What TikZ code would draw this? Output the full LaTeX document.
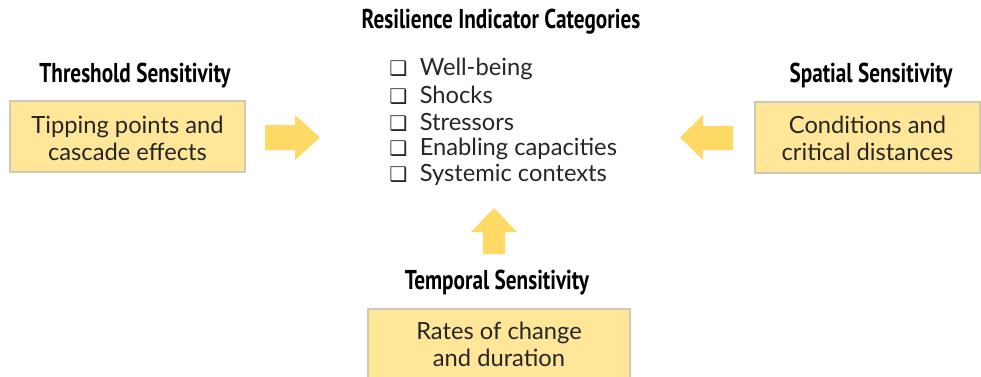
\documentclass[tikz,border=0pt]{standalone}
\usepackage{fontspec}
\setmainfont{Lato}
\newfontfamily\headfont[FakeStretch=0.78]{PT Sans}
\newfontfamily\symfont{DejaVu Sans}
\usetikzlibrary{positioning}

\definecolor{boxfill}{HTML}{FFE699}
\definecolor{boxline}{HTML}{D0C8B0}
\definecolor{arrowfill}{HTML}{FFD966}
\definecolor{textdark}{HTML}{262626}

\tikzset{
  sensbox/.style={draw=boxline, fill=boxfill, line width=0.6pt},
  senstext/.style={text=textdark, align=center, font=\fontsize{13.5}{15.4}\selectfont},
  senstitle/.style={font=\headfont\bfseries\fontsize{15.5}{18}\selectfont},
  item/.style={anchor=west, text=textdark, inner sep=0pt, font=\fontsize{13.5}{15}\selectfont},
  fatarrow/.style={fill=arrowfill, draw=none}
}

\begin{document}
\begin{tikzpicture}[x=0.02cm, y=-0.02cm]
  \useasboundingbox (0,0) rectangle (981,376);
  \clip (0,0) rectangle (981,376);

  % category list
  \node[senstitle] (cat) at (501,22) {Resilience Indicator Categories};
  \foreach \txt [count=\i] in {Well-being, Shocks, Stressors, Enabling capacities, Systemic contexts}
    \node[item] (item\i) at (389,{69+26.5*(\i-1)}) {{\symfont\fontsize{11.5}{14}\selectfont ❑}\hspace{7pt}\txt};

  % threshold
  \node[senstitle] (thr) at (135,76) {Threshold Sensitivity};
  \draw[sensbox] (10,101) rectangle (245,172);
  \node[senstext] (thrtext) at (127.5,138) {Tipping points and\\cascade effects};

  % spatial
  \node[senstitle] (spa) at (871,76) {Spatial Sensitivity};
  \draw[sensbox] (755,102) rectangle (980,173);
  \node[senstext] (spatext) at (867.5,138) {Conditions and\\critical distances};

  % temporal
  \node[senstitle] (tmp) at (497,283) {Temporal Sensitivity};
  \draw[sensbox] (368,309) rectangle (630,390);
  \node[senstext] (tmptext) at (499,344) {Rates of change\\and duration};

  % block arrows
  \fill[fatarrow] (265,125) -- (295,125) -- (295,115) -- (320,137.5) -- (295,160) -- (295,150) -- (265,150) -- cycle;
  \fill[fatarrow] (733,126) -- (703,126) -- (703,115) -- (680,137.5) -- (703,160) -- (703,150) -- (733,150) -- cycle;
  \fill[fatarrow] (483,254) -- (483,232) -- (471,232) -- (494,208) -- (517,232) -- (505,232) -- (505,254) -- cycle;
\end{tikzpicture}
\end{document}
